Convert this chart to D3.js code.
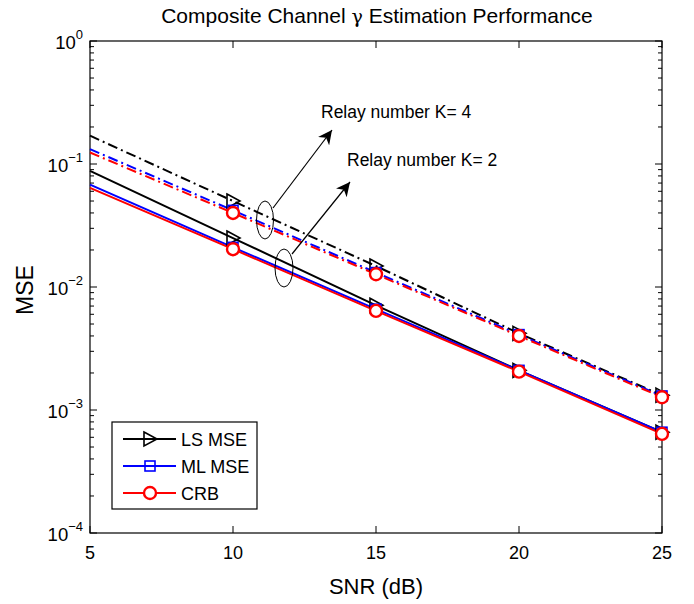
<!DOCTYPE html>
<html><head><meta charset="utf-8">
<script src="https://cdn.jsdelivr.net/npm/d3@7"></script>
<style>body{margin:0;background:#fff}svg text{font-family:"Liberation Sans",Arial,sans-serif}</style>
</head><body><svg id="c" width="694" height="604"></svg>
<script>
const snr = [5, 10, 15, 20, 25];
const markerSnr = [10, 15, 20, 25];
const lsK2 = [0.088, 0.025, 0.0071, 0.0021, 0.00066];
const mlK2 = [0.068, 0.021, 0.0066, 0.0021, 0.00066];
const crbK2 = [0.064, 0.0203, 0.0064, 0.00205, 0.00064];
const lsK4 = [0.17, 0.050, 0.0148, 0.0042, 0.00132];
const mlK4 = [0.132, 0.042, 0.0131, 0.0041, 0.0013];
const crbK4 = [0.124, 0.040, 0.0127, 0.0040, 0.00127];
const xTicks = [5, 10, 15, 20, 25];
const yTicks = [1e-4, 1e-3, 1e-2, 1e-1, 1];
const yExps = ["−4", "−3", "−2", "−1", "0"];

const svg = d3.select("#c");
const L = 90, R = 662, T = 41, B = 533;
const x = d3.scaleLinear().domain([5, 25]).range([L, R]);
const y = d3.scaleLog().domain([1e-4, 1]).range([B, T]);

// title
const title = svg.append("text").attr("x", 377).attr("y", 23).attr("text-anchor", "middle").attr("font-size", 21);
title.append("tspan").text("Composite Channel ");
title.append("tspan").attr("font-family", "DejaVu Serif, serif").attr("font-size", 19).text("γ");
title.append("tspan").text(" Estimation Performance");

// axes box
svg.append("rect").attr("x", L).attr("y", T).attr("width", R - L).attr("height", B - T)
  .attr("fill", "none").attr("stroke", "#000").attr("stroke-width", 1.2);

// x ticks
const gx = svg.append("g");
xTicks.forEach(v => {
  gx.append("line").attr("x1", x(v)).attr("x2", x(v)).attr("y1", B).attr("y2", B - 7).attr("stroke", "#000");
  gx.append("line").attr("x1", x(v)).attr("x2", x(v)).attr("y1", T).attr("y2", T + 7).attr("stroke", "#000");
  gx.append("text").attr("x", x(v)).attr("y", B + 26).attr("text-anchor", "middle")
    .attr("font-size", 18).text(v);
});
// y ticks
const gy = svg.append("g");
yTicks.forEach((v, i) => {
  [L, R].forEach((px, s) => {
    const d = s === 0 ? 7 : -7;
    gy.append("line").attr("x1", px).attr("x2", px + d).attr("y1", y(v)).attr("y2", y(v)).attr("stroke", "#000");
  });
  const t = gy.append("text").attr("x", L - 7).attr("y", y(v) + 8).attr("text-anchor", "end").attr("font-size", 18.5);
  t.append("tspan").text("10");
  t.append("tspan").attr("dy", -10).attr("font-size", 13).text(yExps[i]);
  if (i < yTicks.length - 1) {
    for (let m = 2; m <= 9; m++) {
      const mv = v * m;
      [L, R].forEach((px, s) => {
        const d = s === 0 ? 4 : -4;
        gy.append("line").attr("x1", px).attr("x2", px + d).attr("y1", y(mv)).attr("y2", y(mv)).attr("stroke", "#000");
      });
    }
  }
});

svg.append("text").attr("x", 376).attr("y", 594).attr("text-anchor", "middle").attr("font-size", 22).text("SNR (dB)");
svg.append("text").attr("transform", "translate(33,290) rotate(-90)").attr("text-anchor", "middle").attr("font-size", 23).text("MSE");

const line = d3.line().x(d => x(d[0])).y(d => y(d[1]));
const dashDot = "10,4,2,4";
const series = [
  {v: lsK4, c: "#000", dash: dashDot, m: "tri"},
  {v: mlK4, c: "#0000ff", dash: dashDot, m: "sq"},
  {v: crbK4, c: "#ff0000", dash: dashDot, m: "circ"},
  {v: lsK2, c: "#000", dash: null, m: "tri"},
  {v: mlK2, c: "#0000ff", dash: null, m: "sq"},
  {v: crbK2, c: "#ff0000", dash: null, m: "circ"},
];
function marker(g, m, cx, cy, c) {
  if (m === "tri") {
    g.append("path").attr("d", `M${cx - 6},${cy - 7} L${cx + 7},${cy} L${cx - 6},${cy + 7} Z`)
      .attr("fill", "none").attr("stroke", c).attr("stroke-width", 1.6);
  } else if (m === "sq") {
    g.append("rect").attr("x", cx - 5).attr("y", cy - 5).attr("width", 10).attr("height", 10)
      .attr("fill", "none").attr("stroke", c).attr("stroke-width", 1.6);
  } else {
    g.append("circle").attr("cx", cx).attr("cy", cy).attr("r", 6)
      .attr("fill", "#fff").attr("stroke", c).attr("stroke-width", 2.4);
  }
}
const gd = svg.append("g");
series.forEach(s => {
  const pts = snr.map((v, i) => [v, s.v[i]]);
  gd.append("path").attr("d", line(pts)).attr("fill", "none").attr("stroke", s.c)
    .attr("stroke-width", 2).attr("stroke-dasharray", s.dash);
});
series.forEach(s => {
  markerSnr.forEach(v => {
    const i = snr.indexOf(v);
    marker(gd, s.m, x(v), y(s.v[i]), s.c);
  });
});

// annotations
const ga = svg.append("g");
ga.append("defs").append("marker").attr("id", "ah").attr("viewBox", "0 0 10 10").attr("refX", 10).attr("refY", 5)
  .attr("markerWidth", 14).attr("markerHeight", 14).attr("markerUnits", "userSpaceOnUse").attr("orient", "auto")
  .append("path").attr("d", "M0,0 L10,5 L0,10 L3,5 Z").attr("fill", "#000");
ga.append("ellipse").attr("cx", 265).attr("cy", 220).attr("rx", 8.5).attr("ry", 19).attr("fill", "none").attr("stroke", "#000").attr("stroke-width", 1);
ga.append("ellipse").attr("cx", 284).attr("cy", 268).attr("rx", 9).attr("ry", 19).attr("fill", "none").attr("stroke", "#000").attr("stroke-width", 1);
ga.append("line").attr("x1", 273).attr("y1", 208).attr("x2", 332).attr("y2", 130).attr("stroke", "#000").attr("stroke-width", 1.2).attr("marker-end", "url(#ah)");
ga.append("line").attr("x1", 292).attr("y1", 254).attr("x2", 350).attr("y2", 182).attr("stroke", "#000").attr("stroke-width", 1.2).attr("marker-end", "url(#ah)");
ga.append("text").attr("x", 321).attr("y", 118).attr("font-size", 17.5).text("Relay number K= 4");
ga.append("text").attr("x", 347).attr("y", 166).attr("font-size", 17.5).text("Relay number K= 2");

// legend
const lg = svg.append("g");
lg.append("rect").attr("x", 112).attr("y", 422).attr("width", 145).attr("height", 87)
  .attr("fill", "#fff").attr("stroke", "#000").attr("stroke-width", 1.2);
const legItems = [["LS MSE", "#000", "tri"], ["ML MSE", "#0000ff", "sq"], ["CRB", "#ff0000", "circ"]];
legItems.forEach((d, i) => {
  const yy = 439 + i * 27;
  lg.append("line").attr("x1", 123).attr("x2", 176).attr("y1", yy).attr("y2", yy).attr("stroke", d[1]).attr("stroke-width", 2);
  marker(lg, d[2], 150, yy, d[1]);
  lg.append("text").attr("x", 181).attr("y", yy + 6.5).attr("font-size", 18).text(d[0]);
});
</script></body></html>
